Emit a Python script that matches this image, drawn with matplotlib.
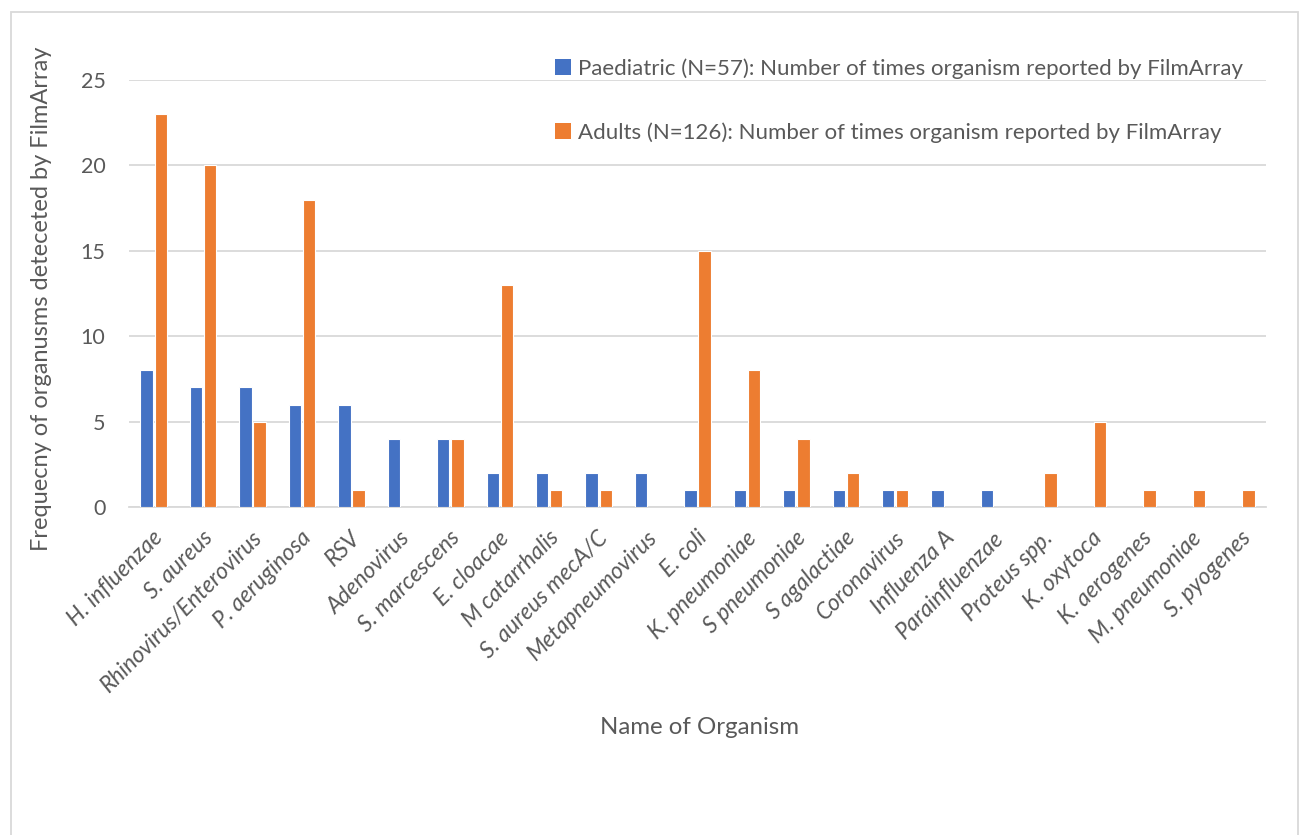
import matplotlib
matplotlib.use("Agg")
import matplotlib.pyplot as plt
from matplotlib.patches import Rectangle, Patch
import numpy as np

plt.rcParams['font.family'] = ['Lato', 'DejaVu Sans']

organisms = [
    "H. influenzae", "S. aureus", "Rhinovirus/Enterovirus", "P. aeruginosa", "RSV",
    "Adenovirus", "S. marcescens", "E. cloacae", "M catarrhalis", "S. aureus mecA/C",
    "Metapneumovirus", "E. coli", "K. pneumoniae", "S pneumoniae", "S agalactiae",
    "Coronavirus", "Influenza A", "Parainfluenzae", "Proteus spp.", "K. oxytoca",
    "K. aerogenes", "M. pneumoniae", "S. pyogenes",
]
paediatric = [8, 7, 7, 6, 6, 4, 4, 2, 2, 2, 2, 1, 1, 1, 1, 1, 1, 1, 0, 0, 0, 0, 0]
adults = [23, 20, 5, 18, 1, 0, 4, 13, 1, 1, 0, 15, 8, 4, 2, 1, 0, 0, 2, 5, 1, 1, 1]

paed_label = "Paediatric (N=57): Number of times organism reported by FilmArray"
adult_label = "Adults (N=126): Number of times organism reported by FilmArray"

BLUE = "#4472C4"
ORANGE = "#ED7D31"
TEXT = "#595959"
GRID = "#D9D9D9"

W, H = 1304, 835
fig = plt.figure(figsize=(W / 100, H / 100), dpi=100)
fig.patch.set_facecolor("white")

# chart frame
fig.patches.append(Rectangle((11 / W, -0.02), (1298 - 11) / W, 1.02 - 12 / H,
                             transform=fig.transFigure, fill=False,
                             edgecolor=GRID, linewidth=1.3, zorder=0))

left, right, top, bottom = 129, 1266, 80, 507
ax = fig.add_axes([left / W, 1 - bottom / H, (right - left) / W, (bottom - top) / H])

x = np.arange(len(organisms))
bw = 0.25
off = 0.143
ax.bar(x - off, paediatric, width=bw, color=BLUE, edgecolor="white",
       linewidth=[0.8 if v > 0 else 0 for v in paediatric], zorder=3)
ax.bar(x + off, adults, width=bw, color=ORANGE, edgecolor="white",
       linewidth=[0.8 if v > 0 else 0 for v in adults], zorder=3)

ax.set_xlim(-0.5, len(organisms) - 0.5)
ax.set_ylim(0, 25)
ax.set_yticks(range(0, 26, 5))
ax.yaxis.grid(True, color=GRID, linewidth=1.3, zorder=0)
ax.set_axisbelow(True)
for s in ["top", "right", "left"]:
    ax.spines[s].set_visible(False)
ax.spines["bottom"].set_color(GRID)
ax.spines["bottom"].set_linewidth(1.3)
ax.tick_params(axis="both", length=0, colors=TEXT, labelsize=15.5)
ax.tick_params(axis="y", pad=17)
ax.set_xticks(x)
ax.set_xticklabels([])

# slanted category labels, top-right corner hung just below each category
for i, name in enumerate(organisms):
    ax.annotate(name, xy=(x[i], 0), xycoords=("data", "axes fraction"),
                xytext=(-1.0, -14.5), textcoords="offset points",
                ha="right", va="top", rotation=45, rotation_mode="anchor",
                style="italic", fontsize=16.5, color=TEXT, annotation_clip=False)

fig.text(700 / W, 1 - 728 / H, "Name of Organism", ha="center", va="center",
         fontsize=17.3, color=TEXT)
fig.text(42 / W, 1 - 299 / H, "Frequecny of organusms deteceted by FilmArray",
         ha="center", va="center", rotation=90, fontsize=17, color=TEXT)

handles = [Patch(facecolor=BLUE, edgecolor="none"), Patch(facecolor=ORANGE, edgecolor="none")]
ax.legend(handles, [paed_label, adult_label], loc="upper left",
          bbox_to_anchor=(555 / W, 1 - 58 / H), bbox_transform=fig.transFigure,
          frameon=False, fontsize=16, labelcolor=TEXT, handlelength=0.72,
          handleheight=0.72, handletextpad=0.3, labelspacing=1.95, borderaxespad=0,
          borderpad=0)

fig.savefig("out.png", dpi=100, facecolor="white")
